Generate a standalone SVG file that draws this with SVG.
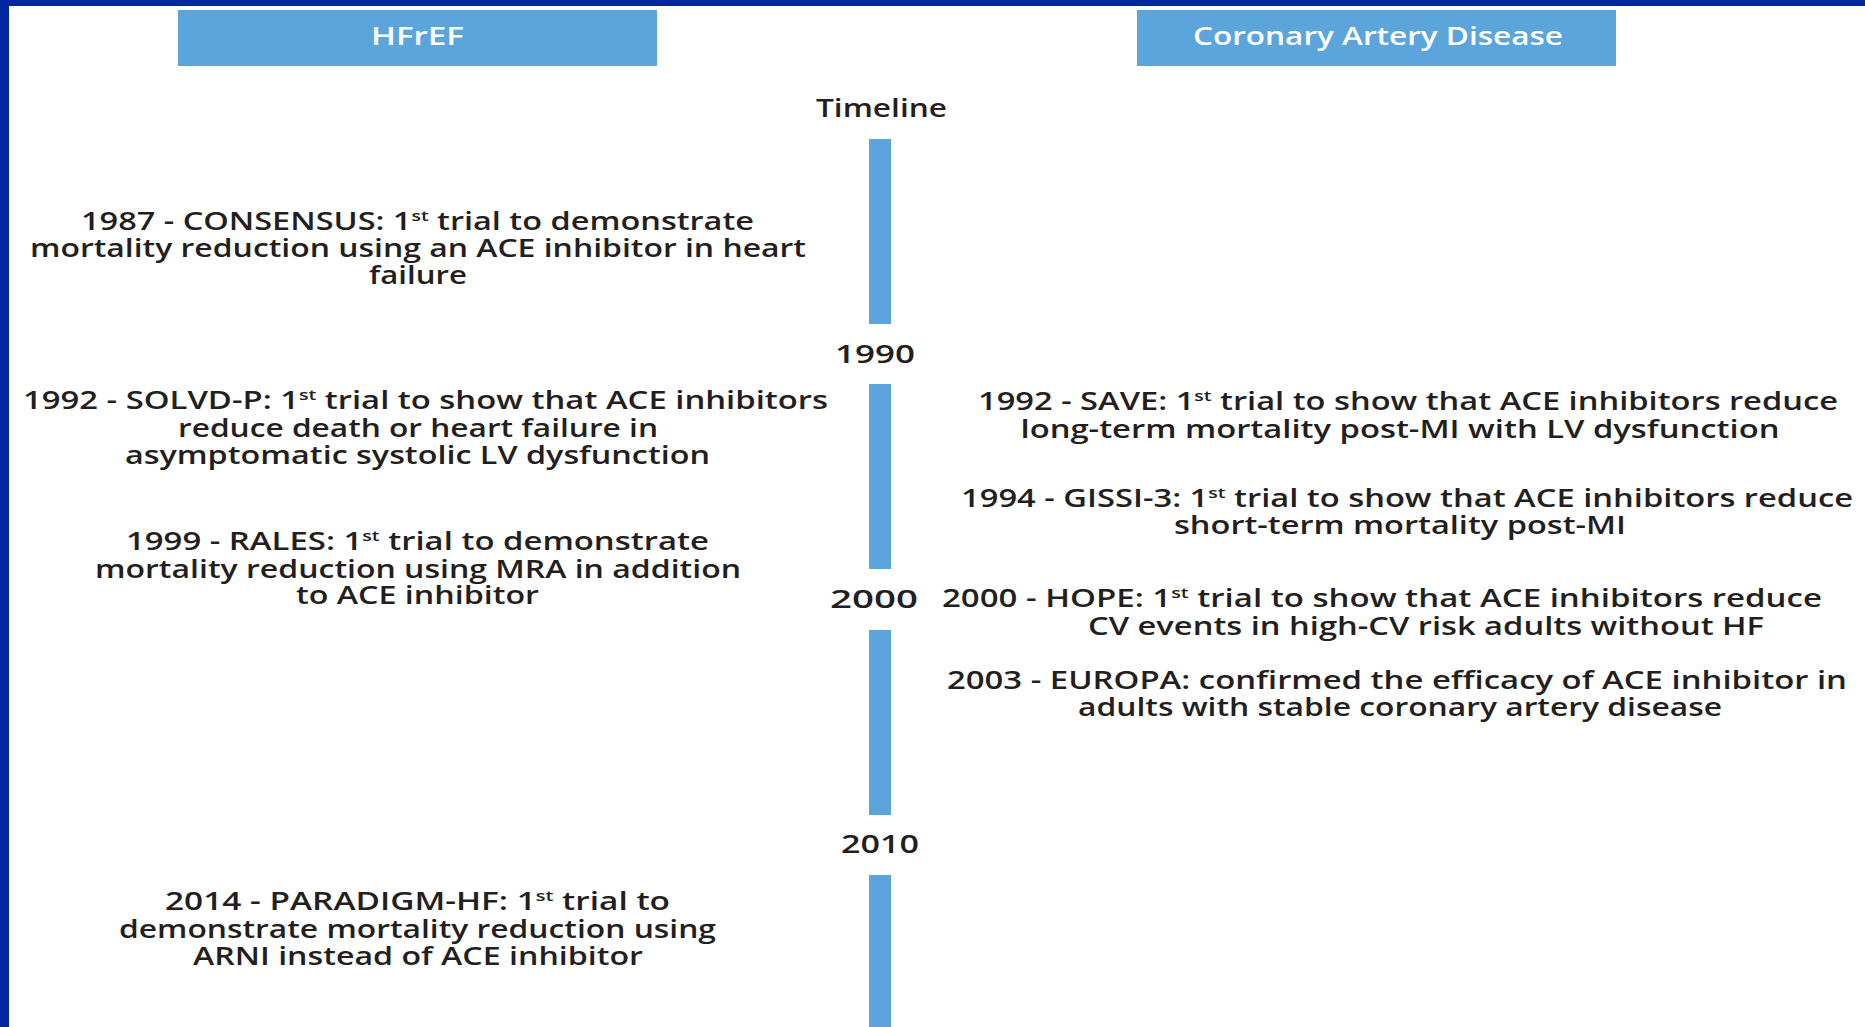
<svg xmlns="http://www.w3.org/2000/svg" width="1865" height="1027" viewBox="0 0 1865 1027">
<style>
.t{font-family:"Open Sans","Liberation Sans",sans-serif;font-weight:600;font-size:25px;fill:#231f20;text-anchor:middle}
.h{font-family:"Open Sans","Liberation Sans",sans-serif;font-weight:600;font-size:25px;fill:#ffffff;text-anchor:middle}
.hdr{fill:#5ba5dc}
.bar{fill:#5ba5dc}
.sup{font-size:15px}
</style>
<rect x="0" y="0" width="1865" height="1027" fill="#ffffff"/>
<rect x="0" y="0" width="1865" height="6" fill="#0026a2"/>
<rect x="0" y="0" width="9" height="1027" fill="#0026a2"/>

<g id="header-hfref">
<rect class="hdr" x="178" y="10" width="479" height="56"/>
<text class="h" x="417.5" y="45" textLength="93" lengthAdjust="spacingAndGlyphs">HFrEF</text>
</g>
<g id="header-cad">
<rect class="hdr" x="1137" y="10" width="479" height="56"/>
<text class="h" x="1378" y="45" textLength="370" lengthAdjust="spacingAndGlyphs">Coronary Artery Disease</text>
</g>

<g id="timeline">
<text class="t" x="881.5" y="116.5" textLength="131" lengthAdjust="spacingAndGlyphs">Timeline</text>
<rect class="bar" x="869" y="139" width="22" height="185"/>
<rect class="bar" x="869" y="384" width="22" height="185"/>
<rect class="bar" x="869" y="630" width="22" height="185"/>
<rect class="bar" x="869" y="875" width="22" height="152"/>
</g>
<g id="year-1990"><text class="t" x="875" y="363" textLength="80" lengthAdjust="spacingAndGlyphs">1990</text></g>
<g id="year-2000"><text class="t" x="874" y="608" textLength="88" lengthAdjust="spacingAndGlyphs">2000</text></g>
<g id="year-2010"><text class="t" x="880" y="853" textLength="78" lengthAdjust="spacingAndGlyphs">2010</text></g>

<g id="consensus">
<text class="t" x="417.5" y="229.5" textLength="673" lengthAdjust="spacingAndGlyphs">1987 - CONSENSUS: 1<tspan class="sup" baseline-shift="9">st</tspan> trial to demonstrate</text>
<text class="t" x="418" y="257" textLength="776" lengthAdjust="spacingAndGlyphs">mortality reduction using an ACE inhibitor in heart</text>
<text class="t" x="418" y="284" textLength="98" lengthAdjust="spacingAndGlyphs">failure</text>
</g>
<g id="solvd">
<text class="t" x="425.5" y="409" textLength="805" lengthAdjust="spacingAndGlyphs">1992 - SOLVD-P: 1<tspan class="sup" baseline-shift="9">st</tspan> trial to show that ACE inhibitors</text>
<text class="t" x="418" y="436.5" textLength="480" lengthAdjust="spacingAndGlyphs">reduce death or heart failure in</text>
<text class="t" x="417.5" y="464" textLength="585" lengthAdjust="spacingAndGlyphs">asymptomatic systolic LV dysfunction</text>
</g>
<g id="rales">
<text class="t" x="417.5" y="549.5" textLength="583" lengthAdjust="spacingAndGlyphs">1999 - RALES: 1<tspan class="sup" baseline-shift="9">st</tspan> trial to demonstrate</text>
<text class="t" x="418" y="578" textLength="646" lengthAdjust="spacingAndGlyphs">mortality reduction using MRA in addition</text>
<text class="t" x="417.5" y="604" textLength="243" lengthAdjust="spacingAndGlyphs">to ACE inhibitor</text>
</g>
<g id="paradigm">
<text class="t" x="417.5" y="910" textLength="505" lengthAdjust="spacingAndGlyphs">2014 - PARADIGM-HF: 1<tspan class="sup" baseline-shift="9">st</tspan> trial to</text>
<text class="t" x="417.5" y="938" textLength="597" lengthAdjust="spacingAndGlyphs">demonstrate mortality reduction using</text>
<text class="t" x="418" y="964.5" textLength="450" lengthAdjust="spacingAndGlyphs">ARNI instead of ACE inhibitor</text>
</g>

<g id="save">
<text class="t" x="1408" y="410" textLength="860" lengthAdjust="spacingAndGlyphs">1992 - SAVE: 1<tspan class="sup" baseline-shift="9">st</tspan> trial to show that ACE inhibitors reduce</text>
<text class="t" x="1400" y="437.5" textLength="759" lengthAdjust="spacingAndGlyphs">long-term mortality post-MI with LV dysfunction</text>
</g>
<g id="gissi">
<text class="t" x="1407" y="506.5" textLength="892" lengthAdjust="spacingAndGlyphs">1994 - GISSI-3: 1<tspan class="sup" baseline-shift="9">st</tspan> trial to show that ACE inhibitors reduce</text>
<text class="t" x="1400" y="534" textLength="452" lengthAdjust="spacingAndGlyphs">short-term mortality post-MI</text>
</g>
<g id="hope">
<text class="t" x="1382" y="606.5" textLength="880" lengthAdjust="spacingAndGlyphs">2000 - HOPE: 1<tspan class="sup" baseline-shift="9">st</tspan> trial to show that ACE inhibitors reduce</text>
<text class="t" x="1426" y="635" textLength="676" lengthAdjust="spacingAndGlyphs">CV events in high-CV risk adults without HF</text>
</g>
<g id="europa">
<text class="t" x="1397" y="688.5" textLength="900" lengthAdjust="spacingAndGlyphs">2003 - EUROPA: confirmed the efficacy of ACE inhibitor in</text>
<text class="t" x="1400" y="716" textLength="644" lengthAdjust="spacingAndGlyphs">adults with stable coronary artery disease</text>
</g>
<g id="connectors"></g>
</svg>
